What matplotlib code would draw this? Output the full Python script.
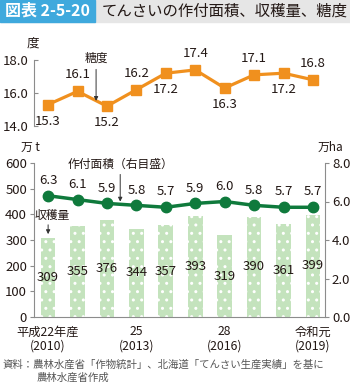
import matplotlib
matplotlib.use("Agg")
import matplotlib.pyplot as plt
from matplotlib.patches import Rectangle

plt.rcParams['font.family'] = ['Noto Sans CJK JP', 'DejaVu Sans']

# data
years = list(range(10))
tick_pos = [0, 3, 6, 9]
tick_labels = ["平成22年産\n(2010)", "25\n(2013)", "28\n(2016)", "令和元\n(2019)"]
sugar = [15.3, 16.1, 15.2, 16.2, 17.2, 17.4, 16.3, 17.1, 17.2, 16.8]
harvest = [309, 355, 376, 344, 357, 393, 319, 390, 361, 399]
area = [6.3, 6.1, 5.9, 5.8, 5.7, 5.9, 6.0, 5.8, 5.7, 5.7]

W, H = 350, 389
txt = '#231815'
axc = '#8c8c8c'
orange = '#f0901e'
green = '#0f7a3c'
barc = '#c4e3bd'

fig = plt.figure(figsize=(W/100, H/100), dpi=100)

def fx(px):
    return px / W

def fy(py):
    return 1 - py / H

# title bar
fig.patches.append(Rectangle((0, fy(22)), 1, 22/H, transform=fig.transFigure,
                             color='#e6e6e6', zorder=0))
fig.patches.append(Rectangle((0, fy(22)), fx(95), 22/H, transform=fig.transFigure,
                             color='#3fa9dd', zorder=1))
fig.text(fx(5), fy(11), "図表 2-5-20", color='white', fontsize=11.5,
         fontweight='bold', va='center', ha='left')
fig.text(fx(102), fy(11), "てんさいの作付面積、収穫量、糖度", color=txt,
         fontsize=11.1, va='center', ha='left')

xl = (-0.48, 9.41)
left, right = 34, 325

# sugar chart
ax1 = fig.add_axes([fx(left), fy(126), fx(right - left), 66/H])
ax1.plot(years, sugar, color=orange, lw=2.3, marker='s', ms=6.5,
         clip_on=False, zorder=3)
ax1.set_xlim(*xl)
ax1.set_ylim(14, 18)
ax1.set_yticks([14, 16, 18])
ax1.set_yticklabels(["14.0", "16.0", "18.0"])
for s in ['top', 'right', 'bottom']:
    ax1.spines[s].set_visible(False)
ax1.spines['left'].set_color(axc)
ax1.spines['left'].set_linewidth(0.8)
ax1.tick_params(axis='y', direction='in', length=3, color=axc, labelsize=9.5,
                labelcolor=txt, pad=4)
ax1.set_xticks([])
ax1.patch.set_alpha(0)
for i, v in enumerate(sugar):
    off = 12 if i % 2 else -12
    ax1.annotate(f"{v:.1f}", (i, v), xytext=(0, off), textcoords='offset points',
                 ha='center', va='center', fontsize=9.5, color=txt)
fig.text(fx(33), fy(43), "度", fontsize=9, color=txt, ha='center', va='center')
ax1.annotate("", xy=(1.63, 15.35), xytext=(1.63, 17.6),
             arrowprops=dict(arrowstyle='-|>', color='#333333', lw=0.7,
                             mutation_scale=6))
ax1.text(1.63, 17.7, "糖度", fontsize=8.5, color=txt, ha='center', va='bottom')

# harvest / area chart
ax2 = fig.add_axes([fx(left), fy(317), fx(right - left), (317 - 163)/H])
ax2.bar(years, harvest, width=0.5, color=barc, edgecolor='white', lw=0,
        hatch='..', zorder=1)
ax2.set_xlim(*xl)
ax2.set_ylim(0, 600)
ax2.set_yticks(range(0, 601, 100))
for s in ['top', 'right']:
    ax2.spines[s].set_visible(False)
for s in ['left', 'bottom']:
    ax2.spines[s].set_color(axc)
    ax2.spines[s].set_linewidth(0.8)
ax2.tick_params(axis='y', direction='out', length=3, color=axc, labelsize=9.5,
                labelcolor=txt, pad=2)
ax2.set_xticks(tick_pos)
ax2.set_xticklabels(tick_labels, fontsize=8.8, color=txt, linespacing=1.1)
ax2.tick_params(axis='x', length=0, pad=6)
for i, v in enumerate(harvest):
    ax2.text(i, v / 2, str(v), ha='center', va='center', fontsize=9.5,
             color=txt, zorder=4)

ax3 = ax2.twinx()
ax3.plot(years, area, color=green, lw=2.5, marker='o', ms=7.5, zorder=3)
ax3.set_xlim(*xl)
ax3.set_ylim(0, 8)
ax3.set_yticks([0, 2, 4, 6, 8])
ax3.set_yticklabels(["0.0", "2.0", "4.0", "6.0", "8.0"])
for s in ['top', 'left', 'bottom']:
    ax3.spines[s].set_visible(False)
ax3.spines['right'].set_color(axc)
ax3.spines['right'].set_linewidth(0.8)
ax3.tick_params(axis='y', direction='out', length=3, color=axc, labelsize=9.5,
                labelcolor=txt, pad=2)
for i, v in enumerate(area):
    ax3.annotate(f"{v:.1f}", (i, v), xytext=(0, 11), textcoords='offset points',
                 ha='center', va='center', fontsize=9.5, color=txt)

fig.text(fx(30), fy(147), "万 t", fontsize=8.5, color=txt, ha='center', va='center')
fig.text(fx(330), fy(147), "万ha", fontsize=8.5, color=txt, ha='center', va='center')

ax3.annotate("", xy=(2.45, 5.85), xytext=(2.45, 7.55),
             arrowprops=dict(arrowstyle='-|>', color='#333333', lw=0.7,
                             mutation_scale=6))
ax3.text(2.45, 7.6, "作付面積（右目盛）", fontsize=8.5, color=txt, ha='center',
         va='bottom')
ax2.annotate("", xy=(0, 312), xytext=(0, 370),
             arrowprops=dict(arrowstyle='-|>', color='#333333', lw=0.7,
                             mutation_scale=6))
ax2.text(-0.45, 372, "収穫量", fontsize=8.5, color=txt, ha='left', va='bottom')

fig.text(fx(3), fy(365), "資料：農林水産省「作物統計」、北海道「てんさい生産実績」を基に",
         fontsize=7.5, color='#555555', ha='left', va='center')
fig.text(fx(37), fy(378), "農林水産省作成", fontsize=7.5, color='#555555',
         ha='left', va='center')

fig.savefig("out.png", dpi=100)
